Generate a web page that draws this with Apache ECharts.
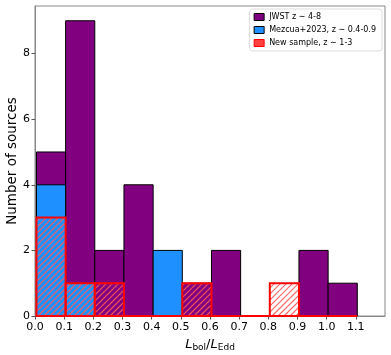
<!DOCTYPE html>
<html>
<head>
<meta charset="utf-8">
<script src="https://cdn.jsdelivr.net/npm/echarts@6/dist/echarts.min.js"></script>
<style>html,body{margin:0;padding:0;background:#fff;}#c{width:391px;height:355px;}</style>
</head>
<body>
<div id="c"></div>
<script>
// ---- data ----
const binEdges = [0.005, 0.105, 0.205, 0.305, 0.405, 0.505, 0.605, 0.705, 0.805, 0.905, 1.005, 1.105];
const jwstCounts = [5, 9, 2, 4, 0, 1, 2, 0, 0, 2, 1];
const mezcuaCounts = [4, 1, 0, 0, 2, 0, 0, 0, 0, 0, 0];
const newCounts = [3, 1, 1, 0, 0, 1, 0, 0, 1, 0, 0];
const xTicks = [0.0, 0.1, 0.2, 0.3, 0.4, 0.5, 0.6, 0.7, 0.8, 0.9, 1.0, 1.1];
const yTicks = [0, 2, 4, 6, 8];
const seriesNames = ['JWST z ∼ 4-8', 'Mezcua+2023, z ∼ 0.4-0.9', 'New sample, z ∼ 1-3'];

function toBins(counts) {
  return counts.map((c, i) => [binEdges[i], binEdges[i + 1], c]);
}

const FONT = 'DejaVu Sans';
const HATCH_GAP = 6;

function makeRender(fill, stroke, lw, hatch, drawZero) {
  return function (params, api) {
    const x0 = api.value(0), x1 = api.value(1), c = api.value(2);
    const pTop = api.coord([x0, c]);
    const pBot = api.coord([x1, 0]);
    const x = pTop[0], y = pTop[1], w = pBot[0] - pTop[0], yb = pBot[1], h = yb - y;
    if (h <= 0.01) {
      if (!drawZero) return null;
      return { type: 'line', shape: { x1: x, y1: yb, x2: x + w, y2: yb }, style: { stroke: stroke, lineWidth: lw } };
    }
    const children = [];
    children.push({ type: 'rect', shape: { x: x, y: y, width: w, height: h }, style: { fill: fill, stroke: null } });
    if (hatch) {
      const start = Math.ceil((x + y) / HATCH_GAP) * HATCH_GAP;
      for (let cc = start; cc <= x + w + yb; cc += HATCH_GAP) {
        const xa = Math.max(x, cc - yb), xb = Math.min(x + w, cc - y);
        if (xb - xa > 0.2) {
          children.push({ type: 'line', shape: { x1: xa, y1: cc - xa, x2: xb, y2: cc - xb },
            style: { stroke: hatch, lineWidth: 1.1 } });
        }
      }
    }
    children.push({ type: 'rect', shape: { x: x, y: y, width: w, height: h }, style: { fill: 'none', stroke: stroke, lineWidth: lw } });
    return { type: 'group', children: children };
  };
}

const chart = echarts.init(document.getElementById('c'), null, { renderer: 'canvas' });
chart.setOption({
  animation: false,
  textStyle: { fontFamily: FONT },
  grid: { left: 35, right: 6, top: 6, bottom: 39, outerBoundsMode: 'none', containLabel: false,
          show: true, borderColor: '#888', borderWidth: 1, backgroundColor: 'transparent' },
  legend: {
    orient: 'vertical', right: 9, top: 9,
    backgroundColor: '#fff', borderColor: '#ddd', borderWidth: 1, borderRadius: 3,
    padding: [4, 6, 4, 4], itemGap: 5, itemWidth: 10, itemHeight: 7,
    textStyle: { fontFamily: FONT, fontSize: 8, color: '#000' },
    data: [
      { name: seriesNames[0], icon: 'rect', itemStyle: { color: '#800080', borderColor: '#000', borderWidth: 1 } },
      { name: seriesNames[1], icon: 'rect', itemStyle: { color: '#1E90FF', borderColor: '#000', borderWidth: 1 } },
      { name: seriesNames[2], icon: 'rect', itemStyle: { color: '#ff4040', borderColor: '#ff0000', borderWidth: 1 } }
    ]
  },
  xAxis: {
    type: 'value', min: 0, max: 1.2, interval: 0.1,
    name: '{i|L}{s|bol}{n|/}{i|L}{s|Edd}', nameLocation: 'middle', nameGap: 21,
    nameTextStyle: {
      rich: {
        i: { fontFamily: FONT, fontStyle: 'italic', fontSize: 13, color: '#000' },
        n: { fontFamily: FONT, fontSize: 13, color: '#000' },
        s: { fontFamily: FONT, fontSize: 9, color: '#000', padding: [6, 0, 0, 0] }
      }
    },
    axisLine: { show: true, onZero: false, lineStyle: { color: '#888', width: 1 } },
    axisTick: { show: true, customValues: xTicks, length: 3.5, lineStyle: { color: '#555' } },
    axisLabel: { customValues: xTicks, formatter: v => v.toFixed(1), fontSize: 11, color: '#000', margin: 6, fontFamily: FONT },
    splitLine: { show: false }
  },
  yAxis: {
    type: 'value', min: 0, max: 9.45,
    name: 'Number of sources', nameLocation: 'middle', nameGap: 16, nameRotate: 90, nameMoveOverlap: false,
    nameTextStyle: { fontFamily: FONT, fontSize: 13.5, color: '#000' },
    axisLine: { show: true, lineStyle: { color: '#888', width: 1 } },
    axisTick: { show: true, customValues: yTicks, length: 3.5, lineStyle: { color: '#555' } },
    axisLabel: { customValues: yTicks, fontSize: 11, color: '#000', margin: 5, fontFamily: FONT },
    splitLine: { show: false }
  },
  series: [
    { name: seriesNames[0], type: 'custom', clip: false, itemStyle: { color: '#800080' },
      encode: { x: [0, 1], y: 2 }, data: toBins(jwstCounts),
      renderItem: makeRender('#800080', '#000', 1, null, false) },
    { name: seriesNames[1], type: 'custom', clip: false, itemStyle: { color: '#1E90FF' },
      encode: { x: [0, 1], y: 2 }, data: toBins(mezcuaCounts),
      renderItem: makeRender('#1E90FF', '#000', 1, null, false) },
    { name: seriesNames[2], type: 'custom', clip: false, itemStyle: { color: '#ff0000' },
      encode: { x: [0, 1], y: 2 }, data: toBins(newCounts),
      renderItem: makeRender('rgba(0,0,0,0)', '#ff0000', 2, 'rgba(255,90,90,0.95)', true) }
  ]
});
</script>
</body>
</html>
